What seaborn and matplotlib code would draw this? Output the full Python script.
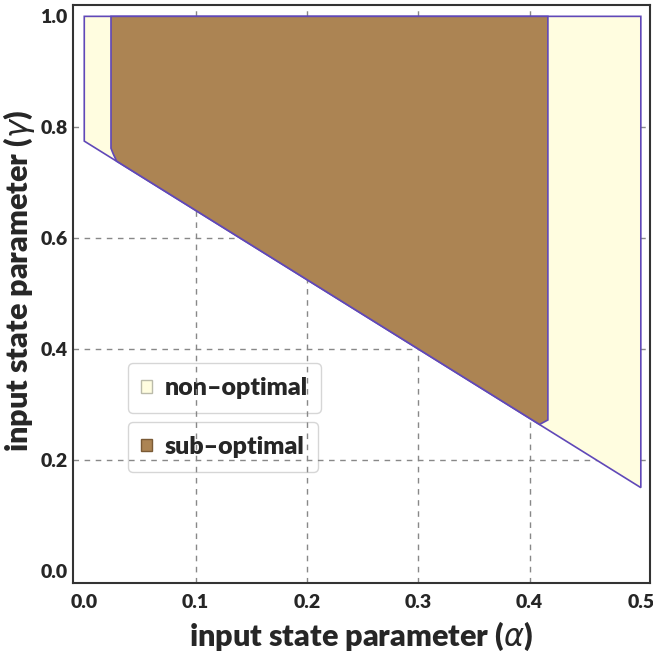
import matplotlib
matplotlib.use("Agg")
import matplotlib.pyplot as plt
import seaborn as sns
from matplotlib.patches import Patch

# region boundaries
non_opt_alpha = [0.0, 0.5, 0.5, 0.0]
non_opt_gamma = [0.775, 0.15, 1.0, 1.0]

sub_opt_alpha = [0.024, 0.024, 0.026, 0.029, 0.409, 0.4165, 0.4165]
sub_opt_gamma = [1.0, 0.762, 0.752, 0.739, 0.264, 0.272, 1.0]

x_ticks = [0.0, 0.1, 0.2, 0.3, 0.4, 0.5]
y_ticks = [0.0, 0.2, 0.4, 0.6, 0.8, 1.0]

sns.set_style("white")
plt.rcParams['font.family'] = ['Lato', 'DejaVu Sans']

non_color = '#fffde0'
sub_color = '#ac8453'
edge_color = '#6048b8'

fig = plt.figure(figsize=(6.53, 6.58), dpi=100)
ax = fig.add_axes([0.112, 0.114, 0.883, 0.878])

ax.fill(non_opt_alpha, non_opt_gamma, facecolor=non_color, edgecolor=edge_color,
        linewidth=1.2, zorder=2)
ax.fill(sub_opt_alpha, sub_opt_gamma, facecolor=sub_color, edgecolor=edge_color,
        linewidth=1.2, zorder=3)

ax.set_xlim(-0.01, 0.508)
ax.set_ylim(-0.022, 1.02)
ax.set_xticks(x_ticks)
ax.set_yticks(y_ticks)
ax.set_xticklabels([f"{t:.1f}" for t in x_ticks], fontsize=14, fontweight='heavy')
ax.set_yticklabels([f"{t:.1f}" for t in y_ticks], fontsize=14, fontweight='heavy')
ax.tick_params(axis='y', direction='in', length=4, width=1, color='#444444', pad=4)
ax.tick_params(axis='x', direction='in', length=4, width=1, color='#444444', pad=8)

for v in x_ticks[1:-1]:
    ax.axvline(v, color='#888888', linestyle=(0, (4, 4)), linewidth=1, zorder=1)
for v in y_ticks[1:-1]:
    ax.axhline(v, color='#888888', linestyle=(0, (4, 4)), linewidth=1, zorder=1)

for s in ax.spines.values():
    s.set_color('#333333')
    s.set_linewidth(1.5)

ax.set_xlabel(r"input state parameter ($\alpha$)", fontsize=22, fontweight='heavy', labelpad=6)
ax.set_ylabel(r"input state parameter ($\gamma$)", fontsize=22, fontweight='heavy')
ax.yaxis.set_label_coords(-0.063, 0.522)

leg_kw = dict(loc='upper left', frameon=True, fancybox=True,
              prop={'weight': 'heavy', 'size': 18}, handlelength=0.42, handleheight=0.42,
              borderpad=0.55, handletextpad=0.5, edgecolor='#cccccc')
leg1 = ax.legend(handles=[Patch(facecolor=non_color, edgecolor='#bbbbaa')],
                 labels=['non\u2013optimal'], bbox_to_anchor=(0.073, 0.402), **leg_kw)
leg1.set_zorder(0.5)
ax.add_artist(leg1)
leg2 = ax.legend(handles=[Patch(facecolor=sub_color, edgecolor='#7a5a35')],
                 labels=['sub\u2013optimal'], bbox_to_anchor=(0.073, 0.3), **leg_kw)
leg2.set_zorder(0.5)

fig.savefig("out.png", dpi=100)
